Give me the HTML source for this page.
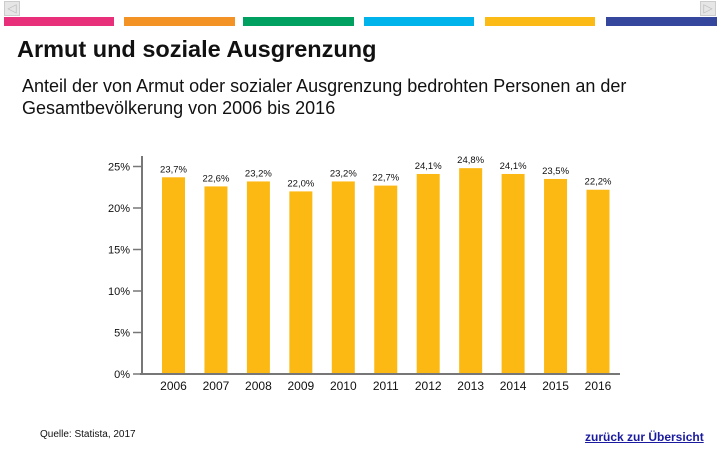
<!DOCTYPE html>
<html><head><meta charset="utf-8"><style>
body{margin:0;width:720px;height:450px;background:#fff;font-family:"Liberation Sans",sans-serif;position:relative;overflow:hidden}
.s{position:absolute;top:17px;height:9px}
</style></head><body>
<div style="position:absolute;left:4px;top:1px;width:16px;height:15px;background:#e6e6e6;box-sizing:border-box;border:1px solid #ccc;color:#bbb;font-size:12px;line-height:13px;text-align:center">&#9665;</div>
<div style="position:absolute;left:700px;top:1px;width:16px;height:15px;background:#e6e6e6;box-sizing:border-box;border:1px solid #ccc;color:#bbb;font-size:12px;line-height:13px;text-align:center">&#9655;</div>
<div class="s" style="left:4px;width:110px;background:#E8307A"></div>
<div class="s" style="left:124px;width:111px;background:#F39325"></div>
<div class="s" style="left:243px;width:111px;background:#00A160"></div>
<div class="s" style="left:364px;width:110px;background:#00B3EB"></div>
<div class="s" style="left:485px;width:110px;background:#FBBA16"></div>
<div class="s" style="left:606px;width:111px;background:#35479C"></div>
<div style="position:absolute;left:17px;top:36px;font-size:23.5px;font-weight:bold;color:#111">Armut und soziale Ausgrenzung</div>
<div style="position:absolute;left:22px;top:75px;font-size:18px;line-height:22px;color:#111">Anteil der von Armut oder sozialer Ausgrenzung bedrohten Personen an der<br>Gesamtbevölkerung von 2006 bis 2016</div>
<svg id="c" width="720" height="450" style="position:absolute;left:0;top:0"></svg>
<div style="position:absolute;left:40px;top:429px;font-size:10px;color:#111">Quelle: Statista, 2017</div>
<div style="position:absolute;left:585px;top:430px;font-size:12px;font-weight:bold;color:#1a1aa0;text-decoration:underline">zurück zur Übersicht</div>
<script>
const years=["2006","2007","2008","2009","2010","2011","2012","2013","2014","2015","2016"];
const values=[23.7,22.6,23.2,22.0,23.2,22.7,24.1,24.8,24.1,23.5,22.2];
const valueLabels=["23,7%","22,6%","23,2%","22,0%","23,2%","22,7%","24,1%","24,8%","24,1%","23,5%","22,2%"];
const yTicks=[0,5,10,15,20,25];
const svg=document.getElementById('c');const NS='http://www.w3.org/2000/svg';
const y=v=>374-v*8.3;const x=i=>173.5+i*42.45;
function mk(t,a,txt){const e=document.createElementNS(NS,t);for(const k in a)e.setAttribute(k,a[k]);if(txt)e.textContent=txt;svg.appendChild(e);return e;}
values.forEach((v,i)=>{
const b=mk('rect',{x:x(i)-11.5,y:y(v),width:23,height:374-y(v),fill:'#FDB913'});


const l=mk('text',{x:x(i),y:y(v)-5,'text-anchor':'middle','font-size':'9.5','fill':'#111'},valueLabels[i]);


const t=mk('text',{x:x(i),y:390,'text-anchor':'middle','font-size':'12','fill':'#111'},years[i]);


});
yTicks.forEach(v=>{
const tk=mk('line',{x1:133,x2:142,y1:y(v),y2:y(v),stroke:'#777','stroke-width':1.5});


const t=mk('text',{x:130,y:y(v)+4,'text-anchor':'end','font-size':'11','fill':'#111'},v+'%');


});
const ya=mk('line',{x1:142,x2:142,y1:156,y2:375,stroke:'#777','stroke-width':2});


const xa=mk('line',{x1:140,x2:620,y1:374,y2:374,stroke:'#777','stroke-width':2});


</script>
</body></html>
